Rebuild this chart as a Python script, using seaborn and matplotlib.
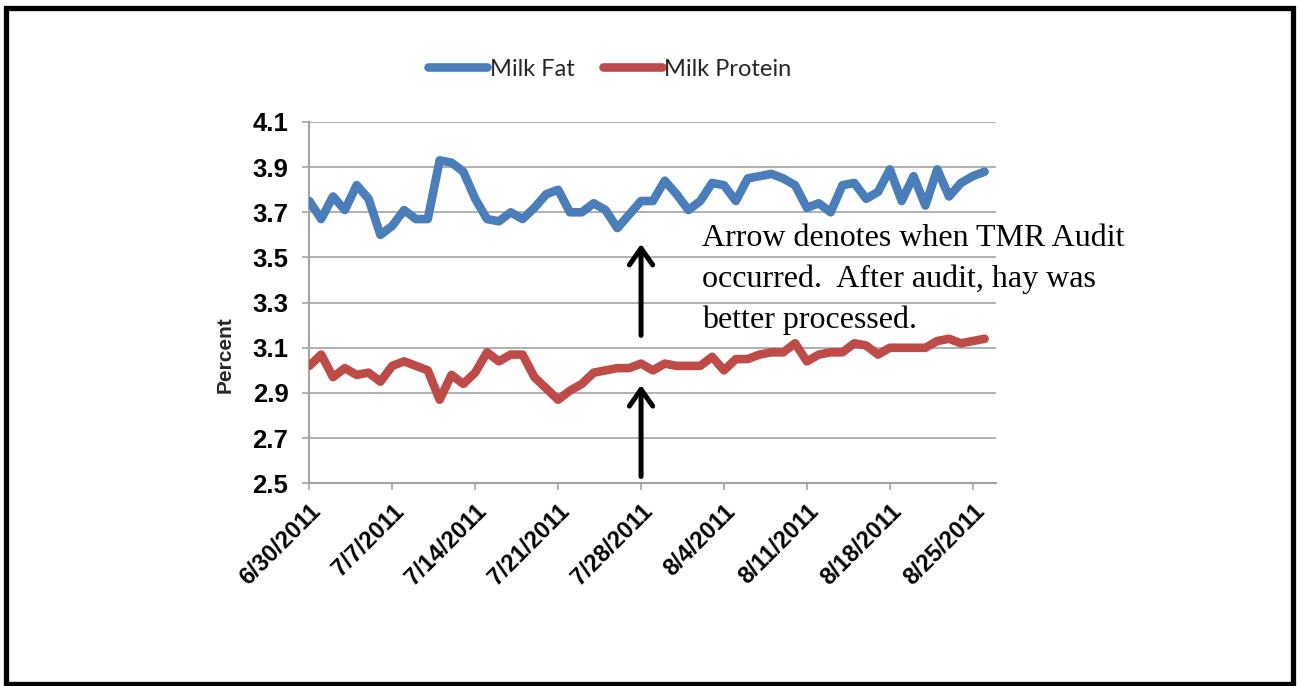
import matplotlib
matplotlib.use("Agg")
import matplotlib.pyplot as plt
import matplotlib.dates as mdates
from matplotlib.patches import Rectangle
import numpy as np
import pandas as pd
import seaborn as sns

# Daily herd averages, 6/30/2011 - 8/26/2011
start_date = "2011-06-30"
milk_fat = [3.75, 3.67, 3.77, 3.71, 3.82, 3.76, 3.60, 3.64, 3.71, 3.67,
            3.67, 3.93, 3.92, 3.88, 3.76, 3.67, 3.66, 3.70, 3.67, 3.72,
            3.78, 3.80, 3.70, 3.70, 3.74, 3.71, 3.63, 3.69, 3.75, 3.75,
            3.84, 3.78, 3.71, 3.75, 3.83, 3.82, 3.75, 3.85, 3.86, 3.87,
            3.85, 3.82, 3.72, 3.74, 3.70, 3.82, 3.83, 3.76, 3.79, 3.89,
            3.75, 3.86, 3.73, 3.89, 3.77, 3.83, 3.86, 3.88]
milk_protein = [3.02, 3.07, 2.97, 3.01, 2.98, 2.99, 2.95, 3.02, 3.04, 3.02,
                3.00, 2.87, 2.98, 2.94, 2.99, 3.08, 3.04, 3.07, 3.07, 2.97,
                2.92, 2.87, 2.91, 2.94, 2.99, 3.00, 3.01, 3.01, 3.03, 3.00,
                3.03, 3.02, 3.02, 3.02, 3.06, 3.00, 3.05, 3.05, 3.07, 3.08,
                3.08, 3.12, 3.04, 3.07, 3.08, 3.08, 3.12, 3.11, 3.07, 3.10,
                3.10, 3.10, 3.10, 3.13, 3.14, 3.12, 3.13, 3.14]
series_names = ["Milk Fat", "Milk Protein"]
series_colors = ["#4A7EBB", "#BE4B48"]
tick_labels = ["6/30/2011", "7/7/2011", "7/14/2011", "7/21/2011", "7/28/2011",
               "8/4/2011", "8/11/2011", "8/18/2011", "8/25/2011"]
y_ticks = [2.5, 2.7, 2.9, 3.1, 3.3, 3.5, 3.7, 3.9, 4.1]
audit_date = "7/28/2011"
note_lines = ["Arrow denotes when TMR Audit",
              "occurred.  After audit, hay was",
              "better processed."]

dates = pd.date_range(start_date, periods=len(milk_fat), freq="D")
df = pd.concat([
    pd.DataFrame({"Date": dates, "Percent": milk_fat, "Series": series_names[0]}),
    pd.DataFrame({"Date": dates, "Percent": milk_protein, "Series": series_names[1]}),
], ignore_index=True)

sns.set_theme(style="white")
plt.rcParams["font.family"] = ["Liberation Sans", "DejaVu Sans"]

W, H = 1298, 686
fig = plt.figure(figsize=(W / 100, H / 100), dpi=100)
ax = fig.add_axes([0.2383, 0.2955, 0.5294, 0.5267])

line_w = 6.2
sns.lineplot(data=df, x="Date", y="Percent", hue="Series",
             palette=dict(zip(series_names, series_colors)),
             linewidth=line_w, ax=ax, legend=False, sort=False,
             solid_joinstyle="round", solid_capstyle="round", zorder=3)

grid_color = "#A3A3A3"
ax.set_ylim(2.5, 4.1)
ax.set_yticks(y_ticks)
ax.set_yticklabels([f"{v:.1f}" for v in y_ticks])
ax.yaxis.grid(True, color=grid_color, linewidth=1.2)
ax.xaxis.grid(False)

tick_dates = pd.to_datetime(tick_labels, format="%m/%d/%Y")
ax.set_xticks(mdates.date2num(tick_dates))
ax.set_xticklabels(tick_labels, rotation=45, ha="right", rotation_mode="anchor")
x0 = mdates.date2num(dates[0])
ax.set_xlim(x0, x0 + len(milk_fat))

for side in ["top", "right"]:
    ax.spines[side].set_visible(False)
for side in ["left", "bottom"]:
    ax.spines[side].set_color(grid_color)
    ax.spines[side].set_linewidth(1.5)

ax.tick_params(axis="both", which="major", direction="out", length=5,
               width=1.2, color=grid_color, labelcolor="black",
               left=True, bottom=True)
ax.tick_params(axis="y", pad=10, labelsize=18.5)
ax.tick_params(axis="x", pad=7, labelsize=17)
for lbl in ax.get_xticklabels() + ax.get_yticklabels():
    lbl.set_fontweight("bold")

ax.set_xlabel("")
ax.set_ylabel("Percent", fontsize=15, fontweight="bold")
ax.yaxis.set_label_coords(-0.108, 0.355)

# Arrows marking the audit date on both series
xa = mdates.date2num(pd.to_datetime(audit_date, format="%m/%d/%Y"))
arrow_kw = dict(arrowstyle="->,head_length=0.6,head_width=0.42",
                color="black", lw=3.6, mutation_scale=20, shrinkA=0, shrinkB=0)
ax.annotate("", xy=(xa, 3.56), xytext=(xa, 3.155), arrowprops=arrow_kw, zorder=5)
ax.annotate("", xy=(xa, 2.935), xytext=(xa, 2.53), arrowprops=arrow_kw, zorder=5)

# Note beside the upper arrow, one line per baseline
for i, line in enumerate(note_lines):
    fig.text(702 / W, 1 - (246 + 41 * i) / H, line, fontsize=23,
             family=["Liberation Serif", "DejaVu Serif"], color="black",
             ha="left", va="baseline")

# Legend across the top
handles = [plt.Line2D([], [], color=c, linewidth=line_w, solid_capstyle="round")
           for c in series_colors]
fig.legend(handles, series_names, loc="center", ncol=2,
           bbox_to_anchor=(610 / W, 1 - 69 / H), frameon=False,
           prop={"family": ["Lato", "DejaVu Sans"], "size": 17},
           handlelength=2.5, handletextpad=0.1, columnspacing=1.2)

# Black frame around the whole figure
fig.patches.append(Rectangle((5.5 / W, 2 / H), 1287 / W, 676.5 / H,
                             transform=fig.transFigure, fill=False,
                             edgecolor="black", linewidth=3.8))

fig.savefig("out.png", dpi=100, facecolor="white")
